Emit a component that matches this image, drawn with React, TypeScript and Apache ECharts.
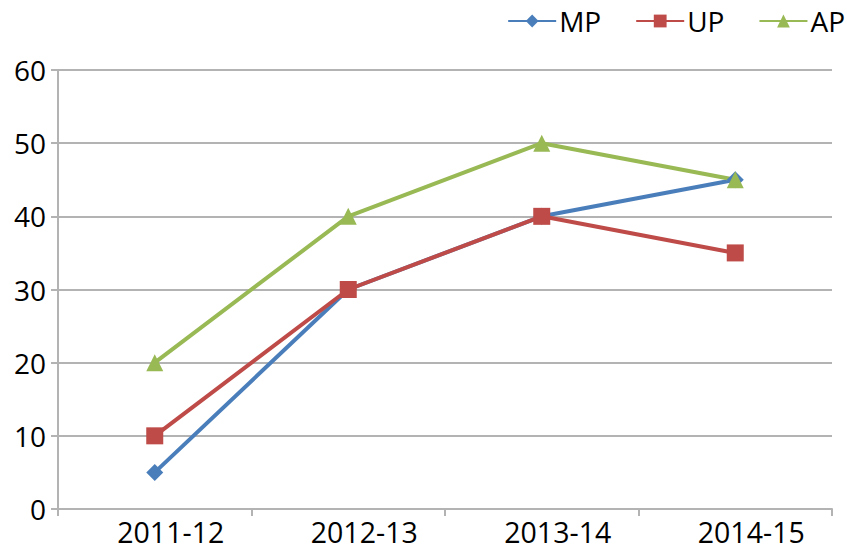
import React, { useEffect, useRef } from "react";
import * as echarts from "echarts";

const categories = ["2011-12", "2012-13", "2013-14", "2014-15"];
const mpValues = [5, 30, 40, 45];
const upValues = [10, 30, 40, 35];
const apValues = [20, 40, 50, 45];

const FONT = "Open Sans";

export default function App() {
  const ref = useRef<HTMLDivElement>(null);
  useEffect(() => {
    if (!ref.current) return;
    const chart = echarts.init(ref.current, undefined, { renderer: "svg" });
    chart.setOption({
      animation: false,
      backgroundColor: "#ffffff",
      textStyle: { fontFamily: FONT },
      legend: {
        top: 2,
        right: -3,
        itemWidth: 48,
        itemHeight: 16,
        itemGap: 34,
        textStyle: { fontSize: 28, color: "#000", fontFamily: FONT, padding: [0, 0, 0, -2] },
        data: ["MP", "UP", "AP"],
      },
      grid: { left: 58, right: 15, top: 70, bottom: 41 },
      xAxis: {
        type: "category",
        data: categories,
        boundaryGap: true,
        axisLine: { show: true, lineStyle: { color: "#b3b3b3", width: 2 } },
        axisTick: { show: true, length: 7, lineStyle: { color: "#b3b3b3", width: 2 } },
        axisLabel: { fontSize: 28.5, color: "#000", margin: 8, fontFamily: FONT, padding: [0, 0, 0, 32] },
      },
      yAxis: {
        type: "value",
        min: 0,
        max: 60,
        interval: 10,
        axisLine: { show: true, lineStyle: { color: "#b3b3b3", width: 2 } },
        axisTick: { show: true, length: 7, lineStyle: { color: "#b3b3b3", width: 2 } },
        axisLabel: { fontSize: 28, color: "#000", margin: 12, fontFamily: FONT },
        splitLine: { show: true, lineStyle: { color: "#b3b3b3", width: 2 } },
      },
      series: [
        {
          name: "MP",
          type: "line",
          data: mpValues,
          symbol: "diamond",
          symbolSize: 17,
          color: "#4a7ebb",
          lineStyle: { width: 4, color: "#4a7ebb" },
          itemStyle: { color: "#4a7ebb" },
        },
        {
          name: "UP",
          type: "line",
          data: upValues,
          symbol: "rect",
          symbolSize: 17,
          color: "#be4b48",
          lineStyle: { width: 4, color: "#be4b48" },
          itemStyle: { color: "#be4b48" },
        },
        {
          name: "AP",
          type: "line",
          data: apValues,
          symbol: "triangle",
          symbolSize: 17,
          color: "#98b954",
          lineStyle: { width: 4, color: "#98b954" },
          itemStyle: { color: "#98b954" },
        },
      ],
    });
    return () => chart.dispose();
  }, []);
  return <div ref={ref} style={{ width: 847, height: 550, position: "absolute", left: 0, top: 0 }} />;
}
